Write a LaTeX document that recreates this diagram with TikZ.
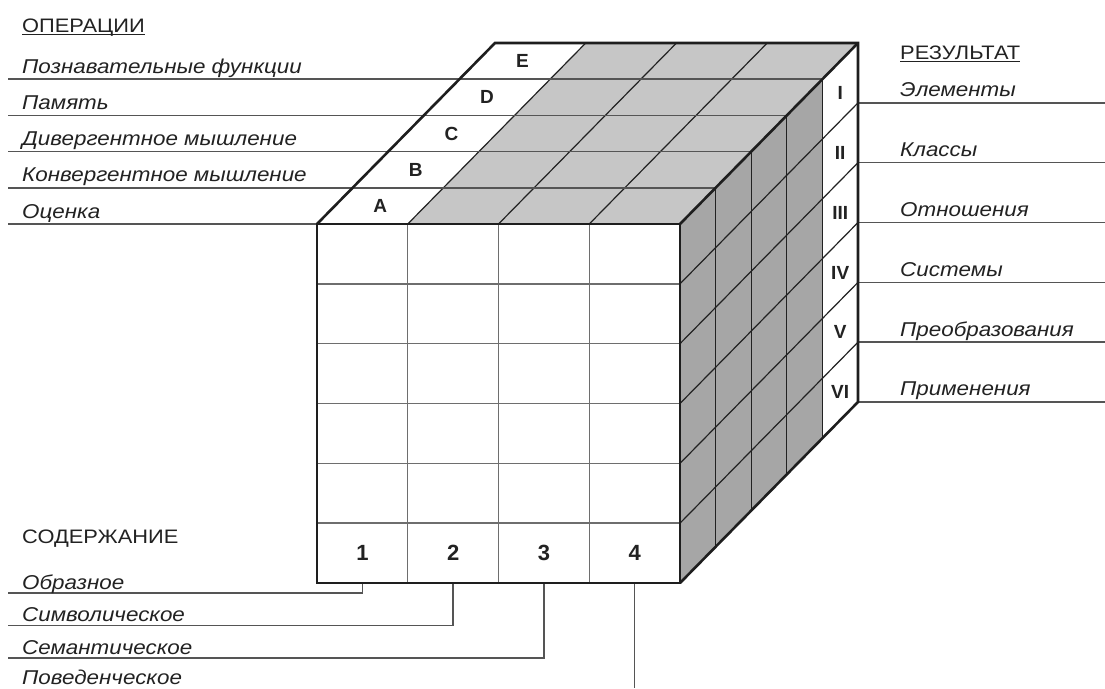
\documentclass[tikz,border=0pt]{standalone}
\usepackage{fontspec}
\setmainfont{Liberation Sans}
\newfontfamily\widefont{Liberation Sans}[FakeStretch=1.12]
\usetikzlibrary{calc}
\definecolor{TopGray}{HTML}{C6C6C6}
\definecolor{SideGray}{HTML}{A6A6A6}
\definecolor{GridLine}{HTML}{6E6E6E}
\definecolor{EdgeInk}{HTML}{1E1E1E}
\definecolor{Leader}{HTML}{555555}
\definecolor{Ink}{HTML}{222222}
\tikzset{
 outline/.style={draw=EdgeInk, line width=2.6pt, line join=miter},
 frontlines/.style={draw=GridLine, line width=1.4pt},
 facelines/.style={draw=Ink, line width=1.2pt},
 leader/.style={draw=Leader, line width=1.5pt},
 uline/.style={draw=Ink, line width=1.3pt},
 heading/.style={anchor=base west, inner sep=0pt, text=Ink, font=\widefont\fontsize{19.5}{23}\selectfont},
 axlabel/.style={anchor=base west, inner sep=0pt, text=Ink, font=\widefont\itshape\fontsize{20}{24}\selectfont},
 cellmark/.style={inner sep=0pt, text=Ink, font=\bfseries\fontsize{19}{23}\selectfont},
 colmark/.style={inner sep=0pt, text=Ink, font=\bfseries\fontsize{22}{26}\selectfont}
}

\begin{document}
\begin{tikzpicture}[x=1pt,y=-1pt]
\useasboundingbox (0,0) rectangle (1105,688);
% cube: front 4 x 6 cells, 5 cells deep
\def\colw{90.75} \def\rowh{59.83} \def\depx{35.6} \def\depy{36.2}
\coordinate (lft) at (8,0);
\coordinate (rgt) at (1105,0);
\foreach \k in {0,...,5}{
 \coordinate (tl-\k) at (317+\k*\depx,224-\k*\depy);
 \coordinate (tr-\k) at (680+\k*\depx,224-\k*\depy);
 \coordinate (br-\k) at (680+\k*\depx,583-\k*\depy);
}
\foreach \i in {0,...,4}{
 \coordinate (tf-\i) at (317+\i*\colw,224);
 \coordinate (tb-\i) at (495+\i*\colw,43);
}
\foreach \i in {1,...,4} \coordinate (c-\i) at (317+\i*\colw-0.5*\colw,583);
\foreach \j in {0,...,6}{
 \coordinate (fl-\j) at (317,224+\j*\rowh);
 \coordinate (fr-\j) at (680,224+\j*\rowh);
 \coordinate (bk-\j) at (858,43+\j*\rowh);
}
\foreach \i/\y in {1/593,2/625.5,3/658,4/688} \coordinate (ldr-\i) at (8,\y);

% faces
\fill[white] (tf-0) -- (tf-1) -- (tb-1) -- (tb-0) -- cycle;
\fill[TopGray] (tf-1) -- (tr-0) -- (tr-5) -- (tb-1) -- cycle;
\fill[SideGray] (tr-0) -- (tr-4) -- (br-4) -- (br-0) -- cycle;
\fill[white] (tr-4) -- (tr-5) -- (br-5) -- (br-4) -- cycle;
\fill[white] (tl-0) rectangle (br-0);

% front grid
\foreach \i in {1,2,3} \draw[frontlines] (tf-\i) -- (tf-\i |- br-0);
\foreach \j in {1,...,5} \draw[frontlines] (fl-\j) -- (fr-\j);

% top and side grid
\foreach \i in {1,2,3} \draw[facelines] (tf-\i) -- (tb-\i);
\foreach \k in {1,...,4} \draw[facelines] (tr-\k) -- (br-\k);
\foreach \j in {1,...,5} \draw[facelines] (fr-\j) -- (bk-\j);

% leaders
\foreach \k in {0,...,4} \draw[leader] (lft |- tr-\k) -- (tr-\k);
\foreach \j in {1,...,6} \draw[leader] (bk-\j) -- (rgt |- bk-\j);
\foreach \i in {1,2,3} \draw[leader] (c-\i) |- (ldr-\i);
\draw[leader] (c-4) -- (c-4 |- ldr-4);

% edges
\draw[outline] (tl-0) rectangle (br-0);
\draw[outline] (tl-0) -- (tl-5) -- (tr-5) -- (br-5) -- (br-0);
\draw[outline] (tr-0) -- (tr-5);

% cell marks
\foreach \k/\l in {0/A,1/B,2/C,3/D,4/E}
 \node[cellmark] (let-\l) at (317+0.5*\colw+\k*\depx+0.5*\depx,224-\k*\depy-0.5*\depy) {\l};
\foreach \j/\r in {1/I,2/II,3/III,4/IV,5/V,6/VI}
 \node[cellmark] (rom-\j) at (680+4.5*\depx,226+\j*\rowh-0.5*\rowh-4.5*\depy) {\r};
\foreach \i in {1,...,4}
 \node[colmark] (num-\i) at ($(c-\i)+(0,-0.5*\rowh)$) {\i};

% headings
\node[heading] (opH) at (22,32) {ОПЕРАЦИИ};
\draw[uline] ([yshift=-2.5pt]opH.base west) -- ([yshift=-2.5pt]opH.base east);
\node[heading] (resH) at (900,59) {РЕЗУЛЬТАТ};
\draw[uline] ([yshift=-2.5pt]resH.base west) -- ([yshift=-2.5pt]resH.base east);
\node[heading] (conH) at (22,543) {СОДЕРЖАНИЕ};

% axis labels
\foreach \k/\t in {4/Познавательные функции,3/Память,2/Дивергентное мышление,1/Конвергентное мышление,0/Оценка}
 \node[axlabel] (op-\k) at ($(lft |- tr-\k)+(14,-6)$) {\t};
\foreach \j/\t in {1/Элементы,2/Классы,3/Отношения,4/Системы,5/Преобразования,6/Применения}
 \node[axlabel] (res-\j) at ($(bk-\j)+(42,-6)$) {\t};
\foreach \i/\t in {1/Образное,2/Символическое,3/Семантическое,4/Поведенческое}
 \node[axlabel] (con-\i) at ($(ldr-\i)+(14,-4)$) {\t};
\end{tikzpicture}
\end{document}
